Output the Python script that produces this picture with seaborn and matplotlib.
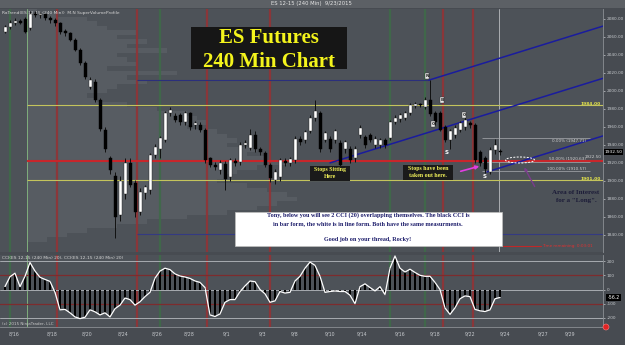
import matplotlib
matplotlib.use("Agg")
import matplotlib.pyplot as plt
import numpy as np
import pandas as pd
import seaborn as sns
from matplotlib.patches import Rectangle, Ellipse, FancyArrowPatch, Circle

# ---------------- data ----------------
opens = [2066, 2071, 2075, 2078, 2080, 2070, 2086, 2084, 2085, 2081,
         2079, 2075, 2066, 2064, 2057, 2046, 2031, 2004, 2010, 1990,
         1957, 1925, 1905, 1862, 1885, 1920, 1898, 1866, 1887, 1890,
         1929, 1936, 1946, 1975, 1972, 1973, 1965, 1975, 1962, 1962,
         1957, 1925, 1918, 1912, 1919, 1904, 1922, 1921, 1940, 1937,
         1951, 1936, 1931, 1918, 1901, 1904, 1922, 1920, 1923, 1947,
         1945, 1956, 1970, 1975, 1946, 1947, 1946, 1942, 1935, 1936,
         1925, 1951, 1949, 1951, 1940, 1940, 1945, 1948, 1966, 1969,
         1970, 1975, 1983, 1985, 1982, 1990, 1976, 1975, 1960, 1946,
         1951, 1957, 1960, 1964, 1962, 1932, 1925, 1910, 1934, 1933]
highs = [2073, 2079, 2081, 2080, 2082, 2089, 2089, 2088, 2087, 2083,
         2081, 2077, 2069, 2066, 2059, 2048, 2033, 2015, 2013, 1992,
         1960, 1928, 1910, 1905, 1925, 1926, 1901, 1892, 1896, 1931,
         1941, 1950, 1978, 1982, 1976, 1975, 1978, 1977, 1967, 1965,
         1959, 1927, 1921, 1923, 1922, 1926, 1925, 1943, 1946, 1958,
         1956, 1938, 1933, 1920, 1913, 1926, 1925, 1927, 1950, 1950,
         1957, 1973, 1990, 1978, 1956, 1950, 1958, 1945, 1946, 1939,
         1939, 1962, 1951, 1953, 1950, 1948, 1948, 1968, 1973, 1976,
         1978, 1987, 1988, 1987, 1993, 2012, 1978, 1978, 1962, 1958,
         1962, 1967, 1971, 1967, 1964, 1934, 1928, 1938, 1947, 1936]
lows = [2064, 2069, 2073, 2074, 2064, 2068, 2082, 2081, 2079, 2076,
        2072, 2063, 2061, 2055, 2044, 2029, 2013, 2002, 1988, 1955,
        1932, 1908, 1837, 1855, 1880, 1893, 1860, 1862, 1880, 1886,
        1925, 1926, 1943, 1972, 1965, 1962, 1962, 1957, 1958, 1954,
        1920, 1915, 1912, 1908, 1890, 1900, 1917, 1918, 1937, 1934,
        1932, 1929, 1915, 1899, 1897, 1900, 1917, 1917, 1920, 1940,
        1942, 1953, 1967, 1932, 1943, 1932, 1942, 1915, 1931, 1920,
        1921, 1948, 1937, 1943, 1937, 1937, 1937, 1945, 1963, 1966,
        1968, 1973, 1981, 1982, 1980, 1972, 1962, 1955, 1943, 1935,
        1948, 1954, 1957, 1959, 1920, 1917, 1909, 1908, 1930, 1929]
closes = [2071, 2076, 2078, 2076, 2066, 2086, 2084, 2085, 2081, 2079,
          2075, 2065, 2064, 2057, 2046, 2031, 2016, 2012, 1990, 1958,
          1935, 1912, 1860, 1900, 1920, 1896, 1865, 1888, 1893, 1929,
          1938, 1948, 1976, 1979, 1968, 1966, 1975, 1960, 1964, 1957,
          1923, 1918, 1915, 1920, 1902, 1923, 1920, 1940, 1942, 1951,
          1935, 1932, 1918, 1903, 1910, 1923, 1920, 1924, 1947, 1943,
          1954, 1970, 1978, 1935, 1953, 1935, 1955, 1918, 1943, 1923,
          1936, 1959, 1940, 1946, 1947, 1945, 1940, 1965, 1970, 1973,
          1975, 1984, 1985, 1984, 1990, 1974, 1965, 1957, 1946, 1955,
          1959, 1964, 1968, 1962, 1923, 1920, 1913, 1934, 1940, 1932]
cci = [21, 90, 115, 20, 93, 190, 130, 86, 71, 57,
       -20, -143, -140, -164, -193, -205, -195, -143, -157, -179,
       -164, -193, -135, -110, -60, -71, -110, -86, -50, -20,
       80, 130, 150, 140, 110, 95, 88, 78, 60, 50,
       14, -179, -190, -172, -90, -71, -71, -15, 25, 60,
       55, 0, -30, -90, -80, -14, -25, -20, 60, 93,
       150, 193, 170, 93, -20, -14, -10, -14, -14, -40,
       -100, 20, 40, 14, -10, 20, -36, 150, 236, 150,
       123, 143, 120, 100, 93, 93, 50, 0, -130, -175,
       -129, -65, -45, -50, -140, -150, -155, -143, -65, -56]

profile_prices = [1835, 1840, 1845, 1850, 1855, 1860, 1865, 1870, 1875, 1880,
                  1885, 1890, 1895, 1900, 1905, 1910, 1915, 1920, 1925, 1930,
                  1935, 1940, 1945, 1950, 1955, 1960, 1965, 1970, 1975, 1980,
                  1985, 1990, 1995, 2000, 2005, 2010, 2015, 2020, 2025, 2030,
                  2035, 2040, 2045, 2050, 2055, 2060, 2065, 2070, 2075, 2080,
                  2085, 2090]
profile_volume = [20, 40, 60, 90, 120, 160, 200, 230, 250, 270,
                  260, 240, 220, 190, 200, 210, 230, 260, 240, 220,
                  230, 200, 210, 200, 190, 160, 180, 170, 160, 130,
                  100, 70, 60, 80, 90, 120, 100, 150, 80, 110,
                  100, 90, 140, 100, 120, 90, 110, 80, 70, 60,
                  30, 10]

green_sessions = [1.0, 31.0, 77.0, 84.0]
red_sessions = [10.4, 26.4, 40.4, 53.0, 87.6, 93.6]
level_yellow = [1984.0, 1901.0]
level_red = 1922.0
level_high = 2012.0
level_low = 1841.0
fib_levels = [1947.71, 1920.63, 1910.57]
fib_labels = ["0.00% (1947.71)", "50.00% (1920.63)", "100.00% (1910.57)"]
channel_upper = ([84.8, 119.6], [2012.0, 2072.0])
channel_mid = ([65.0, 119.6], [1920.0, 2014.0])
channel_low = ([96.4, 119.6], [1910.0, 1950.0])

price_ticks = [1840, 1860, 1880, 1900, 1920, 1940, 1960, 1980, 2000, 2020, 2040, 2060, 2080]
cci_ticks = [200, 100, 0, -100, -200]
xtick_pos = [1.8, 9.4, 16.4, 23.6, 30.4, 36.8, 44.4, 51.6, 58, 65, 71.4, 79, 86, 93, 100, 107.6, 113]
xtick_labels = ['8/16', '8/18', '8/20', '8/24', '8/26', '8/28', '9/1', '9/3', '9/8', '9/10',
                '9/14', '9/16', '9/18', '9/22', '9/24', '9/27', '9/29']

# ---------------- figure ----------------
sns.set_theme(style="dark")
plt.rcParams['font.family'] = ['DejaVu Sans']

W, H = 625, 345
PANEL = '#4d5258'
fig = plt.figure(figsize=(W / 100, H / 100), dpi=100, facecolor='#474b51')

def axes_px(x0, y0, x1, y1):
    return fig.add_axes([x0 / W, 1 - y1 / H, (x1 - x0) / W, (y1 - y0) / H])

XL = (-1, 119.6)
LABC = '#c6c9cd'
SERIF = ['Liberation Serif', 'DejaVu Serif']
TICKFS = 3.1

# title strip
fig.patches.append(Rectangle((0, 1 - 8 / H), 1, 8 / H, transform=fig.transFigure,
                             fc='#5c6065', ec='none', zorder=0))
fig.text(311 / W, 1 - 4 / H, 'ES 12-15 (240 Min)  9/23/2015', ha='center', va='center',
         fontsize=3.8, color='#e6e6e6')

# ---- main price panel ----
ax = axes_px(0, 9, 603, 252)
ax.set_facecolor(PANEL)
ax.set_xlim(*XL)
ax.set_ylim(1821, 2091)

idx = np.arange(len(opens))
o, h, l, c = (np.array(v, dtype=float) for v in (opens, highs, lows, closes))

# volume profile
ax.barh(profile_prices, np.array(profile_volume) / 5.0, left=4.4, height=5,
        color='#575c62', edgecolor='none', linewidth=0, zorder=0.5)

for xg in green_sessions:
    ax.axvline(xg, color='#3f6a49', lw=1.6, alpha=0.9, zorder=1)
ax.axvline(4.4, color='#7fae7c', lw=0.7, zorder=1)
for xr in red_sessions:
    ax.axvline(xr, color='#8e3538', lw=1.6, alpha=0.95, zorder=1)
ax.axvline(98.8, color='#b9bcc0', lw=0.6, zorder=1)

for lv in level_yellow:
    ax.hlines(lv, 4.4, XL[1], color='#c4c45c', lw=0.8, zorder=2)
ax.hlines(level_red, 4.4, XL[1], color='#c8262b', lw=1.5, zorder=2)
ax.hlines(level_high, 26.4, 84.8, color='#2b2f7c', lw=0.8, zorder=2)
ax.hlines(level_low, 26.4, XL[1], color='#343a82', lw=0.8, zorder=2)
for lv in fib_levels:
    ax.hlines(lv, 95.4, 117, color='#a9acb0', lw=0.5, zorder=2)

for (xs, ys) in (channel_upper, channel_mid, channel_low):
    sns.lineplot(x=xs, y=ys, ax=ax, color='#1a1c9e', lw=1.1, zorder=2.5)

# candles
up = c >= o
ax.vlines(idx, l, h, color='#111111', lw=0.7, zorder=3)
bb = np.minimum(o, c)
bh = np.maximum(np.abs(c - o), 1.0)
ax.bar(idx[up], bh[up], bottom=bb[up], width=0.6, color='white',
       edgecolor='#222222', linewidth=0.3, zorder=4)
ax.bar(idx[~up], bh[~up], bottom=bb[~up], width=0.6, color='black',
       edgecolor='black', linewidth=0.3, zorder=4)

ax.set_xticks([])
ax.yaxis.tick_right()
ax.set_yticks(price_ticks)
ax.set_yticklabels([f'{t:.2f}' for t in price_ticks])
ax.tick_params(axis='y', labelsize=TICKFS, colors=LABC, length=1.5, pad=1, width=0.5)
for s in ('top', 'left', 'bottom'):
    ax.spines[s].set_visible(False)
ax.spines['right'].set_color('#8c9095')
ax.spines['right'].set_linewidth(0.6)
ax.set_xlabel('')
ax.set_ylabel('')

# ---- CCI panel ----
ax2 = axes_px(0, 255, 603, 327)
ax2.set_facecolor(PANEL)
ax2.set_xlim(*XL)
ax2.set_ylim(-264, 243)
for xg in green_sessions:
    ax2.axvline(xg, color='#3f6a49', lw=1.6, alpha=0.9, zorder=1)
ax2.axvline(4.4, color='#7fae7c', lw=0.7, zorder=1)
for xr in red_sessions:
    ax2.axvline(xr, color='#8e3538', lw=1.6, alpha=0.95, zorder=1)
for lv in (200, 0, -200):
    ax2.axhline(lv, color='#a7abb0', lw=0.7, zorder=1.5)
for lv in (100, -100):
    ax2.axhline(lv, color='#7d2b2d', lw=0.9, zorder=1.5)
ax2.bar(idx, cci, width=0.4, color='black', edgecolor='black', linewidth=0, zorder=3)
sns.lineplot(x=idx, y=cci, ax=ax2, color='white', lw=0.9, zorder=4)
ax2.yaxis.tick_right()
ax2.set_yticks(cci_ticks)
ax2.set_yticklabels([str(t) for t in cci_ticks])
ax2.set_xticks(xtick_pos)
ax2.set_xticklabels(xtick_labels)
ax2.tick_params(axis='y', labelsize=TICKFS, colors=LABC, length=1.5, pad=1, width=0.5)
ax2.tick_params(axis='x', labelsize=3.4, colors=LABC, length=0, pad=3)
for s in ('top', 'left'):
    ax2.spines[s].set_visible(False)
for s in ('right', 'bottom'):
    ax2.spines[s].set_color('#8c9095')
    ax2.spines[s].set_linewidth(0.6)
ax2.set_xlabel('')
ax2.set_ylabel('')

# ---- overlay annotations in pixel space ----
ov = fig.add_axes([0, 0, 1, 1], facecolor='none')
ov.set_xlim(0, W)
ov.set_ylim(H, 0)
ov.axis('off')

ov.text(2, 13, 'RaTrend(ES 12-15 (240 Min))  M.N SuperVolumeProfile', fontsize=3.2,
        color='#d4d4d4', va='center')
ov.text(2, 258, 'CCI(ES 12-15 (240 Min) 20), CCI(ES 12-15 (240 Min) 20)', fontsize=3.2,
        color='#d4d4d4', va='center')
ov.text(2, 324.5, '(c) 2015 NinjaTrader, LLC', fontsize=3.0, color='#c8c8c8', va='center')

# title box
ov.add_patch(Rectangle((191, 27), 156, 42, fc='#161616', ec='none'))
ov.text(269, 43, 'ES Futures', ha='center', va='baseline', fontsize=15,
        family=SERIF, weight='bold', color='#f4f41c')
ov.text(269, 67, '240 Min Chart', ha='center', va='baseline', fontsize=15,
        family=SERIF, weight='bold', color='#f4f41c')

# note box
ov.add_patch(Rectangle((235, 212), 267, 34, fc='white', ec='#bfbfbf', lw=0.5))
note_c = '#1d1d6b'
ov.text(368, 215.5, 'Tony, below you will see 2 CCI (20) overlapping themselves. The black CCI is',
        ha='center', va='center', fontsize=4.4, family=SERIF, weight='bold', color=note_c)
ov.text(368, 224, 'in bar form, the white is in line form. Both have the same measurments.',
        ha='center', va='center', fontsize=4.4, family=SERIF, weight='bold', color=note_c)
ov.text(368, 239, 'Good job on your thread, Rocky!',
        ha='center', va='center', fontsize=4.4, family=SERIF, weight='bold', color=note_c)

# stops boxes
ov.add_patch(Rectangle((310, 166), 40, 15, fc='#1a1a1a', ec='none'))
ov.text(330, 169.8, 'Stops Sitting', ha='center', va='center', fontsize=4.2, family=SERIF,
        weight='bold', color='#f2f25a')
ov.text(330, 176.8, 'Here', ha='center', va='center', fontsize=4.2, family=SERIF,
        weight='bold', color='#f2f25a')
ov.add_patch(Rectangle((403, 165), 50, 15, fc='#1a1a1a', ec='none'))
ov.text(428, 168.8, 'Stops have been', ha='center', va='center', fontsize=4.2, family=SERIF,
        weight='bold', color='#f2f25a')
ov.text(428, 175.8, 'taken out here.', ha='center', va='center', fontsize=4.2, family=SERIF,
        weight='bold', color='#f2f25a')

ov.add_patch(FancyArrowPatch((458, 172), (482, 165.5), arrowstyle='-|>', mutation_scale=5,
                             color='#e23ee2', lw=1.2))
ov.add_patch(Ellipse((520, 160), 29, 6, fill=False, ec='white', ls=(0, (2, 1.5)), lw=0.7))
ov.add_patch(FancyArrowPatch((536, 189), (523, 165), arrowstyle='-|>', mutation_scale=4,
                             color='#7b3c8c', lw=1.0))
ov.text(576, 192, 'Area of Interest', ha='center', va='center', fontsize=5, family=SERIF,
        weight='bold', color='#1c1c38')
ov.text(576, 200.5, 'for a "Long".', ha='center', va='center', fontsize=5, family=SERIF,
        weight='bold', color='#1c1c38')

# fib labels & level labels
for (yy, t) in zip([140.5, 159.5, 169.5], fib_labels):
    ov.text(586, yy, t, ha='right', va='center', fontsize=3.0, color='#d0d0d0')
ov.text(601, 104, '1984.00', ha='right', va='center', fontsize=3.2, color='#e6e64a', weight='bold')
ov.text(601, 178.5, '1901.00', ha='right', va='center', fontsize=3.2, color='#e6e64a', weight='bold')
ov.text(601, 157.5, '1922.50', ha='right', va='center', fontsize=3.0, color='#d0d0d0')
ov.text(613.5, 152, '1932.50', ha='center', va='center', fontsize=3.2, color='white',
        bbox=dict(boxstyle='square,pad=0.2', fc='black', ec='none'))
ov.text(613.5, 297.5, '-56.2', ha='center', va='center', fontsize=3.4, color='white',
        bbox=dict(boxstyle='square,pad=0.25', fc='black', ec='none'))
ov.add_patch(Circle((606, 327), 3.0, fc='#e02424', ec='#ff8080', lw=0.4))

# red remaining-time label
ov.plot([503, 541], [245.5, 245.5], color='#c02828', lw=0.8)
ov.text(567, 245.5, 'Time remaining: 0:03:01', ha='center', va='center', fontsize=3.0,
        color='#e03030')

# bar markers
box = dict(boxstyle='square,pad=0.15', fc='#e8e8e8', ec='#303030', lw=0.3)
for (mx, my, t) in [(427, 76, 'N'), (442, 100, 'B'), (433, 124, '0'), (464, 115, '0')]:
    ov.text(mx, my, t, ha='center', va='center', fontsize=3.2, color='#222222', bbox=box,
            weight='bold')
for (mx, my) in [(447, 152), (485, 177)]:
    ov.text(mx, my, 'S', ha='center', va='center', fontsize=4, color='white', weight='bold')

fig.savefig('out.png', dpi=100, facecolor=fig.get_facecolor())
